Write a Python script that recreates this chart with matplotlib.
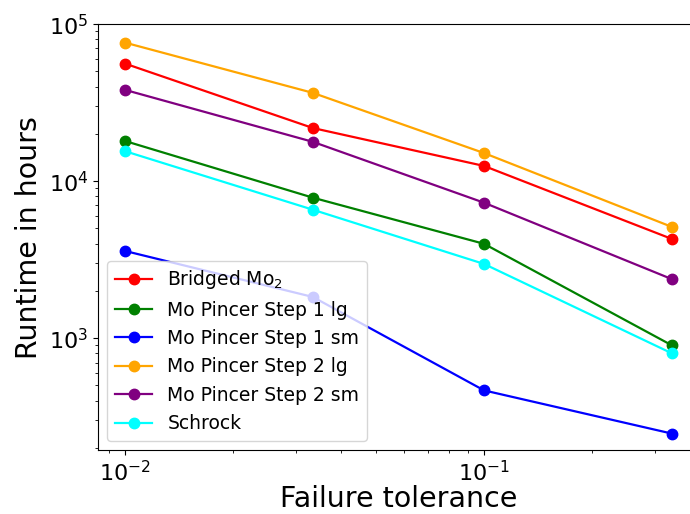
import matplotlib

matplotlib.use("Agg")
import matplotlib.pyplot as plt

tolerance = [0.01, 1 / 30, 0.1, 1 / 3]

labels = ["Bridged Mo$_2$", "Mo Pincer Step 1 lg", "Mo Pincer Step 1 sm",
          "Mo Pincer Step 2 lg", "Mo Pincer Step 2 sm", "Schrock"]
colors = ["red", "green", "blue", "orange", "purple", "cyan"]

bridged_mo2 = [56000, 21800, 12500, 4290]
pincer_1_lg = [18000, 7850, 3990, 902]
pincer_1_sm = [3590, 1830, 465, 247]
pincer_2_lg = [76200, 36500, 15100, 5120]
pincer_2_sm = [38100, 17800, 7290, 2380]
schrock = [15500, 6580, 2970, 802]
series = [bridged_mo2, pincer_1_lg, pincer_1_sm, pincer_2_lg, pincer_2_sm, schrock]

fig = plt.figure(figsize=(6.9, 5.14), dpi=100)
ax = fig.add_axes([0.142, 0.1245, 0.871, 0.8285])
for lab, c, ys in zip(labels, colors, series):
    ax.plot(tolerance, ys, "o-", color=c, label=lab, markersize=7.5, linewidth=1.6)
ax.set_xscale("log")
ax.set_yscale("log")
ax.set_ylim(194, 1e5)
ax.set_xlabel("Failure tolerance", fontsize=20.5, labelpad=0)
ax.set_ylabel("Runtime in hours", fontsize=20.5)
ax.tick_params(labelsize=16)
ax.legend(loc="lower left", fontsize=13.5)
fig.savefig("out.png", dpi=100)
